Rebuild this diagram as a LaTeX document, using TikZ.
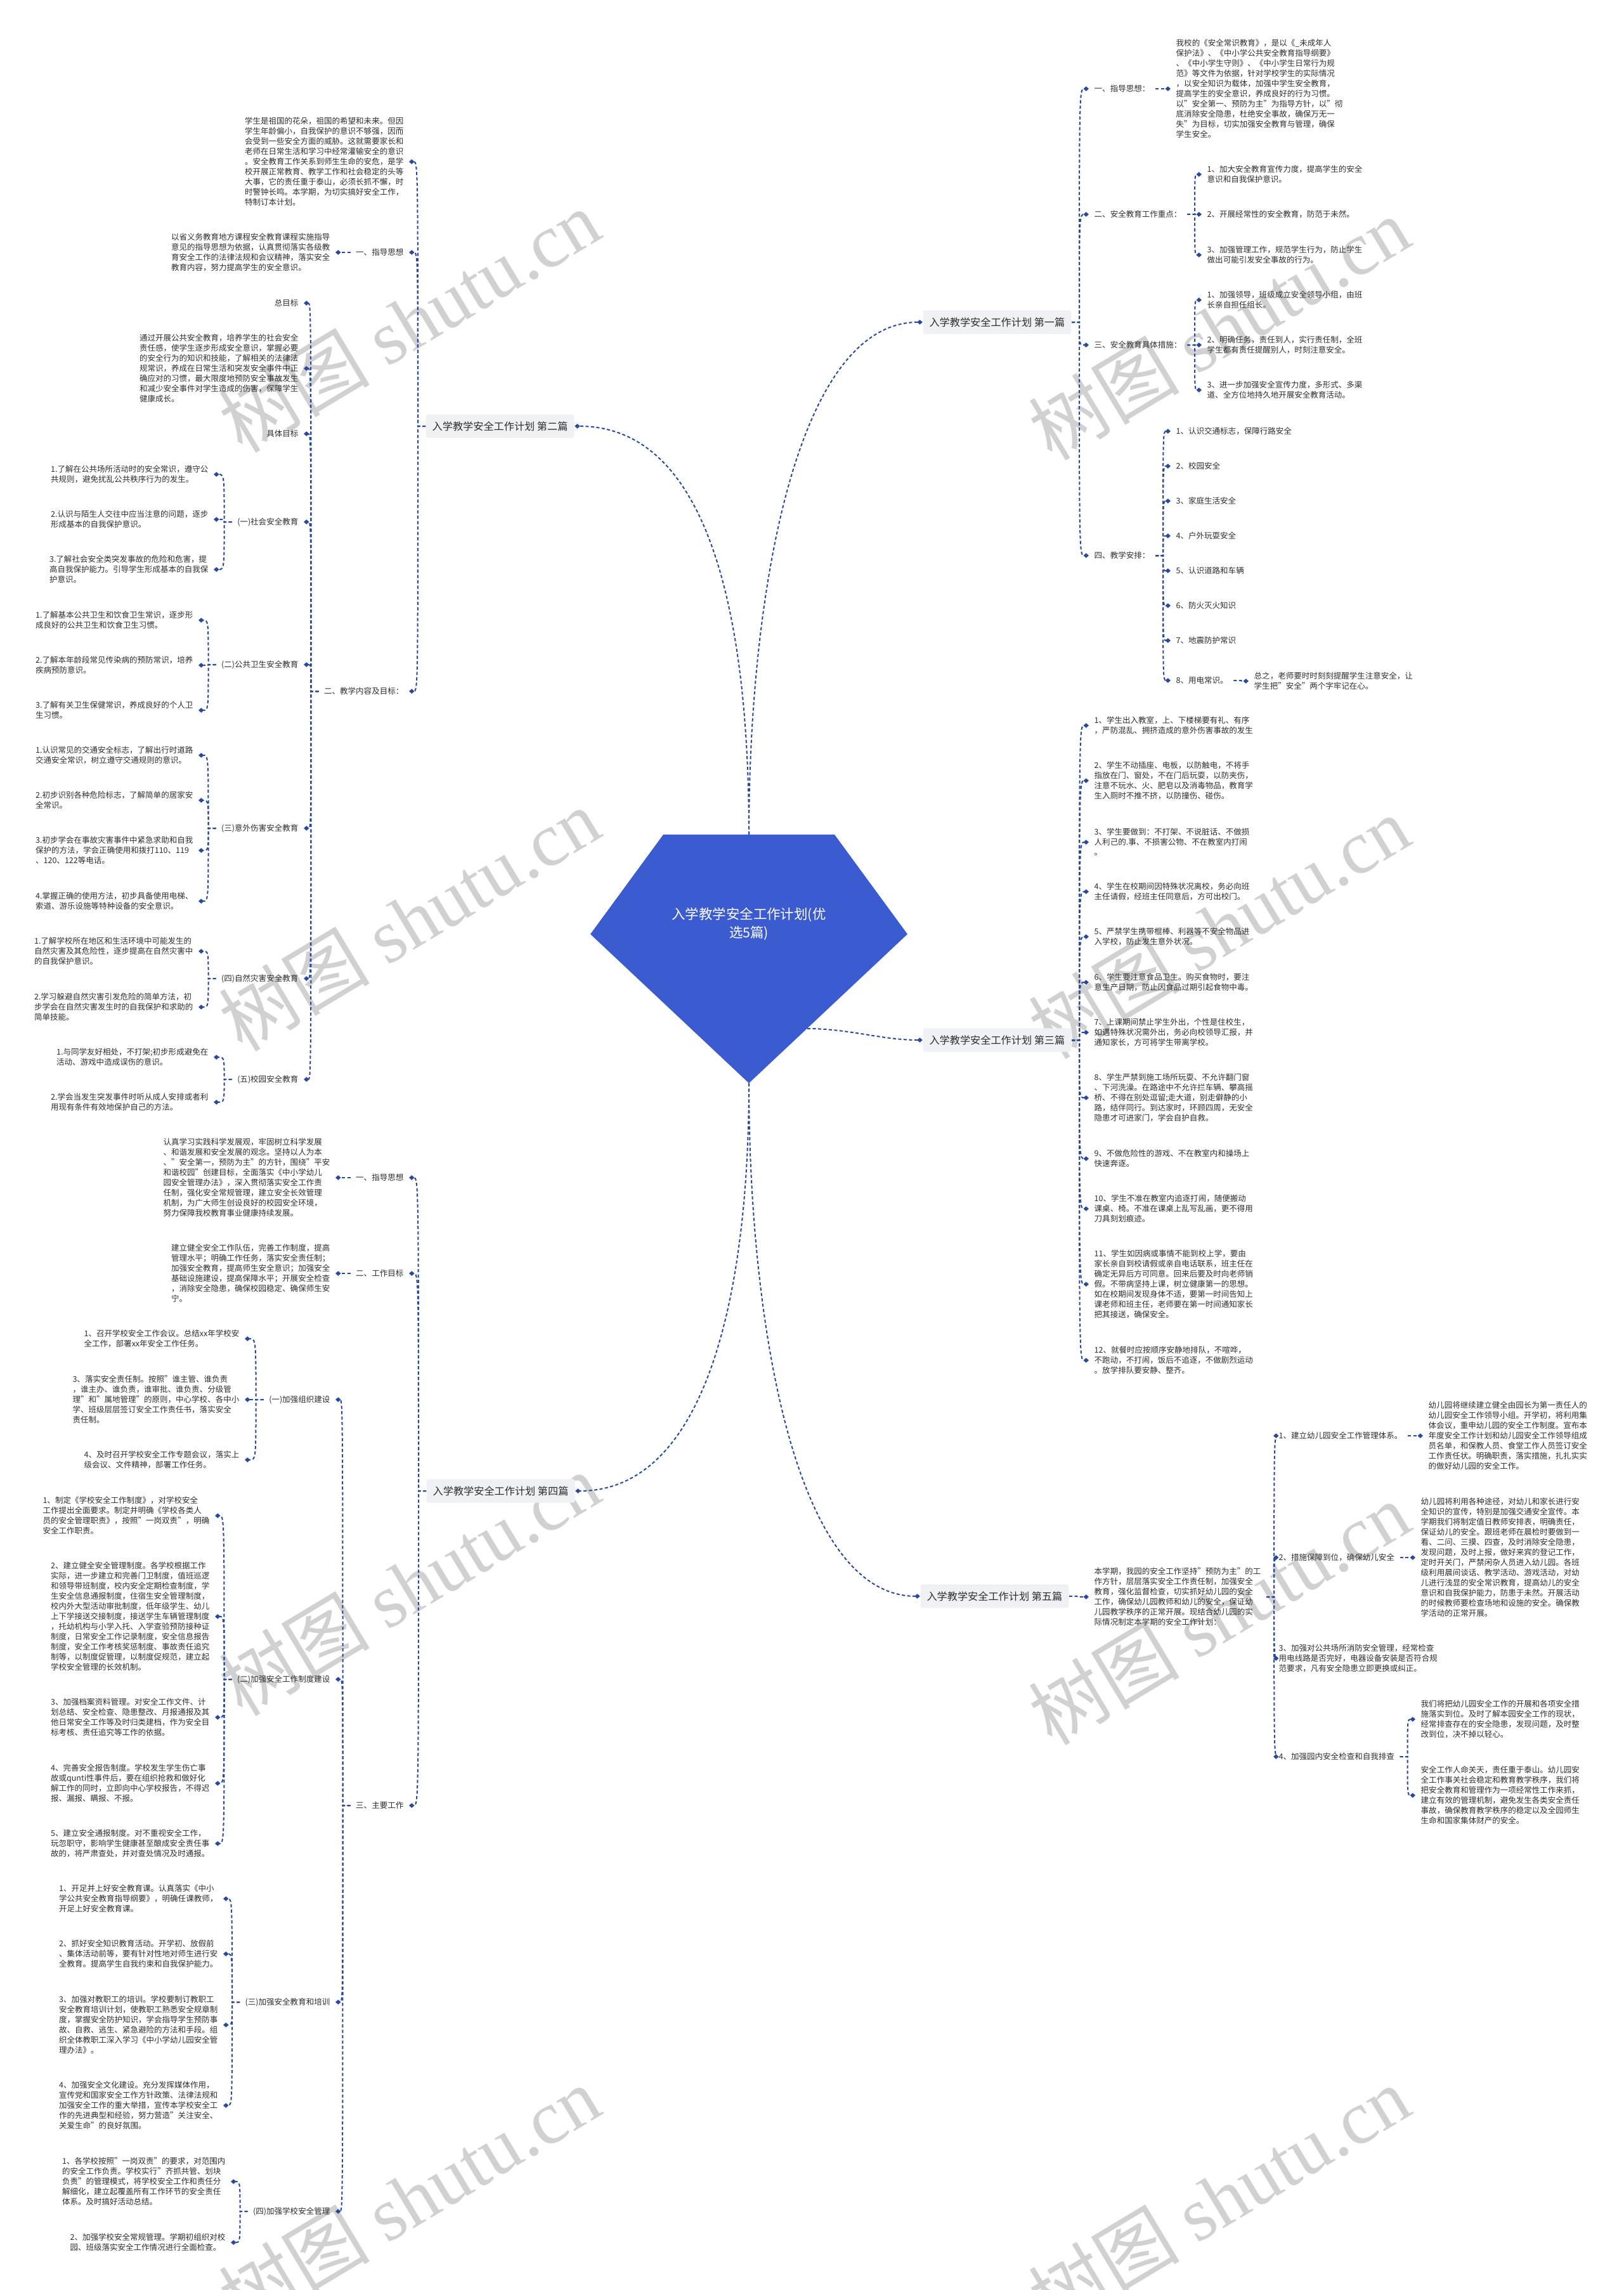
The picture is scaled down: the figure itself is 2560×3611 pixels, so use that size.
\documentclass[tikz,border=0pt]{standalone}
\usepackage{fontspec}
\setmainfont{Noto Sans CJK SC}
\newfontfamily\wmlatin{Liberation Serif}
\usetikzlibrary{arrows.meta}

\definecolor{linkblue}{RGB}{42,72,156}
\definecolor{rootblue}{RGB}{59,91,208}
\definecolor{boxgray}{RGB}{239,241,245}
\definecolor{txtgray}{RGB}{45,45,45}

\newcommand\rlinks[2]{%
  \coordinate (#1s) at ([xshift=1.2mm]#1.east);
  \foreach \c in {#2}
    \draw[link] (#1.east) -- (#1s) .. controls (#1s |- \c.west) .. (\c.west);
}
\newcommand\llinks[2]{%
  \coordinate (#1s) at ([xshift=-1.2mm]#1.west);
  \foreach \c in {#2}
    \draw[link] (#1.west) -- (#1s) .. controls (#1s |- \c.east) .. (\c.east);
}

\begin{document}
\begin{tikzpicture}[x=0.1mm, y=-0.1mm,
    txt/.style={inner xsep=0.8mm, inner ysep=0.3mm, align=left, text=txtgray,
      font=\fontsize{3.56}{4.55}\selectfont},
    branch/.style={fill=boxgray, rounded corners=0.3mm, inner xsep=1mm, inner ysep=1.1mm,
      text=txtgray, font=\fontsize{4.6}{5.5}\selectfont},
    link/.style={draw=linkblue, line width=0.2mm, dash pattern=on 0.5mm off 0.35mm,
      -{Diamond[length=0.85mm,width=0.75mm]}},
    wm/.style={text=black!18, rotate=31, font=\fontsize{34}{34}\selectfont}]

  \useasboundingbox (0,0) rectangle (2560,3611);

  \foreach \x/\y [count=\i] in {645/506, 1922/518, 645/1450, 1922/1462, 645/2498, 1922/2544, 645/3465, 1922/3465}
    \node[wm] (wm\i) at (\x,\y) {树图 {\wmlatin shutu.cn}};

  % centre
  \fill[rootblue] (1046,1316) -- (1316,1316) -- (1431,1473) -- (1181,1708) -- (931,1473) -- cycle;
  \node[text=white, align=center, font=\fontsize{6.1}{8}\selectfont] (root) at (1181,1457) {入学教学安全工作计划(优\\选5篇)};
  \coordinate (rootN) at (1181,1316);
  \coordinate (rootS) at (1181,1708);
  \coordinate (rootE) at (1273,1622);

  \node[branch, anchor=east] (p1) at (1690,508) {入学教学安全工作计划 第一篇};
  \node[branch, anchor=west] (p2) at (671,672) {入学教学安全工作计划 第二篇};
  \node[branch, anchor=east] (p3) at (1690,1640) {入学教学安全工作计划 第三篇};
  \node[branch, anchor=west] (p4) at (672,2351) {入学教学安全工作计划 第四篇};
  \node[branch, anchor=east] (p5) at (1686,2517) {入学教学安全工作计划 第五篇};

  \draw[link] (rootN) .. controls (1181,950) and (1252,508) .. (p1.west);
  \draw[link] (rootN) .. controls (1181,950) and (1110,672) .. (p2.east);
  \draw[link] (rootE) .. controls (1340,1622) and (1390,1640) .. (p3.west);
  \draw[link] (rootS) .. controls (1181,2050) and (1110,2351) .. (p4.east);
  \draw[link] (rootS) .. controls (1181,2080) and (1252,2517) .. (p5.west);

  % first
  \node[txt, anchor=west] (p1a) at (1717,140) {一、指导思想：};
  \node[txt, anchor=west] (p1a1) at (1846,140) {我校的《安全常识教育》，是以《\_未成年人\\保护法》、《中小学公共安全教育指导纲要》\\、《中小学生守则》、《中小学生日常行为规\\范》等文件为依据，针对学校学生的实际情况\\，以安全知识为载体，加强中学生安全教育，\\提高学生的安全意识，养成良好的行为习惯。\\以"安全第一、预防为主"为指导方针，以"彻\\底消除安全隐患，杜绝安全事故，确保万无一\\失"为目标，切实加强安全教育与管理，确保\\学生安全。};
  \node[txt, anchor=west] (p1b) at (1717,338) {二、安全教育工作重点：};
  \node[txt, anchor=west] (p1b1) at (1895,275) {1、加大安全教育宣传力度，提高学生的安全\\意识和自我保护意识。};
  \node[txt, anchor=west] (p1b2) at (1895,338) {2、开展经常性的安全教育，防范于未然。};
  \node[txt, anchor=west] (p1b3) at (1895,402) {3、加强管理工作，规范学生行为，防止学生\\做出可能引发安全事故的行为。};
  \node[txt, anchor=west] (p1c) at (1717,544) {三、安全教育具体措施：};
  \node[txt, anchor=west] (p1c1) at (1895,473) {1、加强领导，班级成立安全领导小组，由班\\长亲自担任组长。};
  \node[txt, anchor=west] (p1c2) at (1895,544) {2、明确任务，责任到人，实行责任制，全班\\学生都有责任提醒别人，时刻注意安全。};
  \node[txt, anchor=west] (p1c3) at (1895,615) {3、进一步加强安全宣传力度，多形式、多渠\\道、全方位地持久地开展安全教育活动。};
  \node[txt, anchor=west] (p1d) at (1717,876) {四、教学安排：};
  \node[txt, anchor=west] (p1d1) at (1846,680) {1、认识交通标志，保障行路安全};
  \node[txt, anchor=west] (p1d2) at (1846,735) {2、校园安全};
  \node[txt, anchor=west] (p1d3) at (1846,790) {3、家庭生活安全};
  \node[txt, anchor=west] (p1d4) at (1846,845) {4、户外玩耍安全};
  \node[txt, anchor=west] (p1d5) at (1846,900) {5、认识道路和车辆};
  \node[txt, anchor=west] (p1d6) at (1846,955) {6、防火灭火知识};
  \node[txt, anchor=west] (p1d7) at (1846,1010) {7、地震防护常识};
  \node[txt, anchor=west] (p1d8) at (1846,1073) {8、用电常识。};
  \node[txt, anchor=west] (p1d8a) at (1969,1074) {总之，老师要时时刻刻提醒学生注意安全，让\\学生把"安全"两个字牢记在心。};

  \rlinks{p1}{p1a,p1b,p1c,p1d}
  \rlinks{p1a}{p1a1}
  \rlinks{p1b}{p1b1,p1b2,p1b3}
  \rlinks{p1c}{p1c1,p1c2,p1c3}
  \rlinks{p1d}{p1d1,p1d2,p1d3,p1d4,p1d5,p1d6,p1d7,p1d8}
  \rlinks{p1d8}{p1d8a}

  % second
  \node[txt, anchor=east] (p2i) at (645,255) {学生是祖国的花朵，祖国的希望和未来。但因\\学生年龄偏小，自我保护的意识不够强，因而\\会受到一些安全方面的威胁。这就需要家长和\\老师在日常生活和学习中经常灌输安全的意识\\。安全教育工作关系到师生生命的安危，是学\\校开展正常教育、教学工作和社会稳定的头等\\大事，它的责任重于泰山，必须长抓不懈，时\\时警钟长鸣。本学期，为切实搞好安全工作，\\特制订本计划。};
  \node[txt, anchor=east] (p2a) at (645,398) {一、指导思想};
  \node[txt, anchor=east] (p2a1) at (529,398) {以省义务教育地方课程安全教育课程实施指导\\意见的指导思想为依据，认真贯彻落实各级教\\育安全工作的法律法规和会议精神，落实安全\\教育内容，努力提高学生的安全意识。};
  \node[txt, anchor=east] (p2b) at (645,1090) {二、教学内容及目标：};
  \node[txt, anchor=east] (g0) at (479,478) {总目标};
  \node[txt, anchor=east] (g1) at (479,581) {通过开展公共安全教育，培养学生的社会安全\\责任感，使学生逐步形成安全意识，掌握必要\\的安全行为的知识和技能，了解相关的法律法\\规常识，养成在日常生活和突发安全事件中正\\确应对的习惯，最大限度地预防安全事故发生\\和减少安全事件对学生造成的伤害，保障学生\\健康成长。};
  \node[txt, anchor=east] (g2) at (479,684) {具体目标};
  \node[txt, anchor=east] (e1) at (479,823) {(一)社会安全教育};
  \node[txt, anchor=east] (e1a) at (337,748) {1.了解在公共场所活动时的安全常识，遵守公\\共规则，避免扰乱公共秩序行为的发生。};
  \node[txt, anchor=east] (e1b) at (337,819) {2.认识与陌生人交往中应当注意的问题，逐步\\形成基本的自我保护意识。};
  \node[txt, anchor=east] (e1c) at (337,898) {3.了解社会安全类突发事故的危险和危害，提\\高自我保护能力。引导学生形成基本的自我保\\护意识。};
  \node[txt, anchor=east] (e2) at (479,1048) {(二)公共卫生安全教育};
  \node[txt, anchor=east] (e2a) at (313,978) {1.了解基本公共卫生和饮食卫生常识，逐步形\\成良好的公共卫生和饮食卫生习惯。};
  \node[txt, anchor=east] (e2b) at (313,1049) {2.了解本年龄段常见传染病的预防常识，培养\\疾病预防意识。};
  \node[txt, anchor=east] (e2c) at (313,1120) {3.了解有关卫生保健常识，养成良好的个人卫\\生习惯。};
  \node[txt, anchor=east] (e3) at (479,1306) {(三)意外伤害安全教育};
  \node[txt, anchor=east] (e3a) at (313,1191) {1.认识常见的交通安全标志，了解出行时道路\\交通安全常识，树立遵守交通规则的意识。};
  \node[txt, anchor=east] (e3b) at (313,1262) {2.初步识别各种危险标志，了解简单的居家安\\全常识。};
  \node[txt, anchor=east] (e3c) at (313,1341) {3.初步学会在事故灾害事件中紧急求助和自我\\保护的方法，学会正确使用和拨打110、119\\、120、122等电话。};
  \node[txt, anchor=east] (e3d) at (313,1421) {4.掌握正确的使用方法，初步具备使用电梯、\\索道、游乐设施等特种设备的安全意识。};
  \node[txt, anchor=east] (e4) at (479,1543) {(四)自然灾害安全教育};
  \node[txt, anchor=east] (e4a) at (313,1500) {1.了解学校所在地区和生活环境中可能发生的\\自然灾害及其危险性，逐步提高在自然灾害中\\的自我保护意识。};
  \node[txt, anchor=east] (e4b) at (313,1588) {2.学习躲避自然灾害引发危险的简单方法，初\\步学会在自然灾害发生时的自我保护和求助的\\简单技能。};
  \node[txt, anchor=east] (e5) at (479,1702) {(五)校园安全教育};
  \node[txt, anchor=east] (e5a) at (337,1667) {1.与同学友好相处，不打架;初步形成避免在\\活动、游戏中造成误伤的意识。};
  \node[txt, anchor=east] (e5b) at (337,1738) {2.学会当发生突发事件时听从成人安排或者利\\用现有条件有效地保护自己的方法。};

  \llinks{p2}{p2i,p2a,p2b}
  \llinks{p2a}{p2a1}
  \llinks{p2b}{g0,g1,g2,e1,e2,e3,e4,e5}
  \llinks{e1}{e1a,e1b,e1c}
  \llinks{e2}{e2a,e2b,e2c}
  \llinks{e3}{e3a,e3b,e3c,e3d}
  \llinks{e4}{e4a,e4b}
  \llinks{e5}{e5a,e5b}

  % third
  \node[txt, anchor=west] (r1) at (1717,1144) {1、学生出入教室，上、下楼梯要有礼、有序\\，严防混乱、拥挤造成的意外伤害事故的发生};
  \node[txt, anchor=west] (r2) at (1717,1231) {2、学生不动插座、电板，以防触电，不将手\\指放在门、窗处，不在门后玩耍，以防夹伤，\\注意不玩水、火、肥皂以及消毒物品，教育学\\生入厕时不推不挤，以防撞伤、碰伤。};
  \node[txt, anchor=west] (r3) at (1717,1328) {3、学生要做到：不打架、不说脏话、不做损\\人利己的.事、不损害公物、不在教室内打闹\\。};
  \node[txt, anchor=west] (r4) at (1717,1406) {4、学生在校期间因特殊状况离校，务必向班\\主任请假，经班主任同意后，方可出校门。};
  \node[txt, anchor=west] (r5) at (1717,1477) {5、严禁学生携带棍棒、利器等不安全物品进\\入学校，防止发生意外状况。};
  \node[txt, anchor=west] (r6) at (1717,1549) {6、学生要注意食品卫生。购买食物时，要注\\意生产日期，防止因食品过期引起食物中毒。};
  \node[txt, anchor=west] (r7) at (1717,1628) {7、上课期间禁止学生外出，个性是住校生，\\如遇特殊状况需外出，务必向校领导汇报，并\\通知家长，方可将学生带离学校。};
  \node[txt, anchor=west] (r8) at (1717,1731) {8、学生严禁到施工场所玩耍、不允许翻门窗\\、下河洗澡。在路途中不允许拦车辆、攀高摇\\桥、不得在别处逗留;走大道，别走僻静的小\\路，结伴同行。到达家时，环顾四周，无安全\\隐患才可进家门，学会自护自救。};
  \node[txt, anchor=west] (r9) at (1717,1827) {9、不做危险性的游戏、不在教室内和操场上\\快速奔逐。};
  \node[txt, anchor=west] (r10) at (1717,1906) {10、学生不准在教室内追逐打闹，随便搬动\\课桌、椅。不准在课桌上乱写乱画，更不得用\\刀具刻划痕迹。};
  \node[txt, anchor=west] (r11) at (1717,2025) {11、学生如因病或事情不能到校上学，要由\\家长亲自到校请假或亲自电话联系，班主任在\\确定无异后方可同意。回来后要及时向老师销\\假。不带病坚持上课，树立健康第一的思想。\\如在校期间发现身体不适，要第一时间告知上\\课老师和班主任，老师要在第一时间通知家长\\把其接送，确保安全。};
  \node[txt, anchor=west] (r12) at (1717,2145) {12、就餐时应按顺序安静地排队，不喧哗，\\不跑动，不打闹，饭后不追逐，不做剧烈运动\\。放学排队要安静、整齐。};

  \rlinks{p3}{r1,r2,r3,r4,r5,r6,r7,r8,r9,r10,r11,r12}

  % fourth
  \node[txt, anchor=east] (p4a) at (645,1857) {一、指导思想};
  \node[txt, anchor=east] (p4a1) at (529,1857) {认真学习实践科学发展观，牢固树立科学发展\\、和谐发展和安全发展的观念。坚持以人为本\\、"安全第一，预防为主"的方针，围绕"平安\\和谐校园"创建目标，全面落实《中小学幼儿\\园安全管理办法》，深入贯彻落实安全工作责\\任制，强化安全常规管理，建立安全长效管理\\机制，为广大师生创设良好的校园安全环境，\\努力保障我校教育事业健康持续发展。};
  \node[txt, anchor=east] (p4b) at (645,2008) {二、工作目标};
  \node[txt, anchor=east] (p4b1) at (529,2008) {建立健全安全工作队伍，完善工作制度，提高\\管理水平；明确工作任务，落实安全责任制；\\加强安全教育，提高师生安全意识；加强安全\\基础设施建设，提高保障水平；开展安全检查\\，消除安全隐患，确保校园稳定、确保师生安\\宁。};
  \node[txt, anchor=east] (p4c) at (645,2847) {三、主要工作};
  \node[txt, anchor=east] (w1) at (529,2207) {(一)加强组织建设};
  \node[txt, anchor=east] (w1a) at (386,2111) {1、召开学校安全工作会议。总结xx年学校安\\全工作，部署xx年安全工作任务。};
  \node[txt, anchor=east] (w1b) at (386,2207) {3、落实安全责任制。按照"谁主管、谁负责\\，谁主办、谁负责，谁审批、谁负责、分级管\\理"和"属地管理"的原则，中心学校、各中小\\学、班级层层签订安全工作责任书，落实安全\\责任制。};
  \node[txt, anchor=east] (w1c) at (386,2302) {4、及时召开学校安全工作专题会议，落实上\\级会议、文件精神，部署工作任务。};
  \node[txt, anchor=east] (w2) at (529,2648) {(二)加强安全工作制度建设};
  \node[txt, anchor=east] (w2a) at (339,2390) {1、制定《学校安全工作制度》，对学校安全\\工作提出全面要求。制定并明确《学校各类人\\员的安全管理职责》，按照"一岗双责"，明确\\安全工作职责。};
  \node[txt, anchor=east] (w2b) at (339,2549) {2、建立健全安全管理制度。各学校根据工作\\实际，进一步建立和完善门卫制度，值班巡逻\\和领导带班制度，校内安全定期检查制度，学\\生安全信息通报制度，住宿生安全管理制度，\\校内外大型活动审批制度，低年级学生、幼儿\\上下学接送交接制度，接送学生车辆管理制度\\，托幼机构与小学入托、入学查验预防接种证\\制度，日常安全工作记录制度，安全信息报告\\制度，安全工作考核奖惩制度、事故责任追究\\制等，以制度促管理，以制度促规范，建立起\\学校安全管理的长效机制。};
  \node[txt, anchor=east] (w2c) at (339,2708) {3、加强档案资料管理。对安全工作文件、计\\划总结、安全检查、隐患整改、月报通报及其\\他日常安全工作等及时归类建档，作为安全目\\标考核、责任追究等工作的依据。};
  \node[txt, anchor=east] (w2d) at (339,2812) {4、完善安全报告制度。学校发生学生伤亡事\\故或qunti性事件后，要在组织抢救和做好化\\解工作的同时，立即向中心学校报告，不得迟\\报、漏报、瞒报、不报。};
  \node[txt, anchor=east] (w2e) at (339,2907) {5、建立安全通报制度。对不重视安全工作，\\玩忽职守，影响学生健康甚至酿成安全责任事\\故的，将严肃查处，并对查处情况及时通报。};
  \node[txt, anchor=east] (w3) at (529,3157) {(三)加强安全教育和培训};
  \node[txt, anchor=east] (w3a) at (352,2994) {1、开足并上好安全教育课。认真落实《中小\\学公共安全教育指导纲要》，明确任课教师，\\开足上好安全教育课。};
  \node[txt, anchor=east] (w3b) at (352,3081) {2、抓好安全知识教育活动。开学初、放假前\\、集体活动前等，要有针对性地对师生进行安\\全教育。提高学生自我约束和自我保护能力。};
  \node[txt, anchor=east] (w3c) at (352,3193) {3、加强对教职工的培训。学校要制订教职工\\安全教育培训计划，使教职工熟悉安全规章制\\度，掌握安全防护知识，学会指导学生预防事\\故、自救、逃生、紧急避险的方法和手段。组\\织全体教职工深入学习《中小学幼儿园安全管\\理办法》。};
  \node[txt, anchor=east] (w3d) at (352,3320) {4、加强安全文化建设。充分发挥媒体作用，\\宣传党和国家安全工作方针政策、法律法规和\\加强安全工作的重大举措，宣传本学校安全工\\作的先进典型和经验，努力营造"关注安全、\\关爱生命"的良好氛围。};
  \node[txt, anchor=east] (w4) at (529,3487) {(四)加强学校安全管理};
  \node[txt, anchor=east] (w4a) at (364,3440) {1、各学校按照"一岗双责"的要求，对范围内\\的安全工作负责。学校实行"齐抓共管、划块\\负责"的管理模式，将学校安全工作和责任分\\解细化，建立起覆盖所有工作环节的安全责任\\体系。及时搞好活动总结。};
  \node[txt, anchor=east] (w4b) at (364,3536) {2、加强学校安全常规管理。学期初组织对校\\园、班级落实安全工作情况进行全面检查。};

  \llinks{p4}{p4a,p4b,p4c}
  \llinks{p4a}{p4a1}
  \llinks{p4b}{p4b1}
  \llinks{p4c}{w1,w2,w3,w4}
  \llinks{w1}{w1a,w1b,w1c}
  \llinks{w2}{w2a,w2b,w2c,w2d,w2e}
  \llinks{w3}{w3a,w3b,w3c,w3d}
  \llinks{w4}{w4a,w4b}

  % fifth
  \node[txt, anchor=west] (p5i) at (1717,2518) {本学期，我园的安全工作坚持"预防为主"的工\\作方针，层层落实安全工作责任制，加强安全\\教育，强化监督检查，切实抓好幼儿园的安全\\工作，确保幼儿园教师和幼儿的安全，保证幼\\儿园教学秩序的正常开展。现结合幼儿园的实\\际情况制定本学期的安全工作计划：};
  \node[txt, anchor=west] (k1) at (2008,2264) {1、建立幼儿园安全工作管理体系。};
  \node[txt, anchor=west] (k1a) at (2244,2264) {幼儿园将继续建立健全由园长为第一责任人的\\幼儿园安全工作领导小组。开学初，将利用集\\体会议，重申幼儿园的安全工作制度。宣布本\\年度安全工作计划和幼儿园安全工作领导组成\\员名单，和保教人员、食堂工作人员签订安全\\工作责任状。明确职责，落实措施，扎扎实实\\的做好幼儿园的安全工作。};
  \node[txt, anchor=west] (k2) at (2008,2456) {2、措施保障到位，确保幼儿安全};
  \node[txt, anchor=west] (k2a) at (2232,2456) {幼儿园将利用各种途径，对幼儿和家长进行安\\全知识的宣传，特别是加强交通安全宣传。本\\学期我们将制定值日教师安排表，明确责任，\\保证幼儿的安全。跟班老师在晨检时要做到一\\看、二问、三摸、四查，及时消除安全隐患，\\发现问题，及时上报，做好来宾的登记工作，\\定时开关门，严禁闲杂人员进入幼儿园。各班\\级利用晨间谈话、教学活动、游戏活动，对幼\\儿进行浅显的安全常识教育，提高幼儿的安全\\意识和自我保护能力，防患于未然。开展活动\\的时候教师要检查场地和设施的安全。确保教\\学活动的正常开展。};
  \node[txt, anchor=west] (k3) at (2008,2615) {3、加强对公共场所消防安全管理，经常检查\\用电线路是否完好，电器设备安装是否符合规\\范要求，凡有安全隐患立即更换或纠正。};
  \node[txt, anchor=west] (k4) at (2008,2770) {4、加强园内安全检查和自我排查};
  \node[txt, anchor=west] (k4a) at (2232,2711) {我们将把幼儿园安全工作的开展和各项安全措\\施落实到位。及时了解本园安全工作的现状，\\经常排查存在的安全隐患，发现问题，及时整\\改到位，决不掉以轻心。};
  \node[txt, anchor=west] (k4b) at (2232,2831) {安全工作人命关天，责任重于泰山。幼儿园安\\全工作事关社会稳定和教育教学秩序，我们将\\把安全教育和管理作为一项经常性工作来抓，\\建立有效的管理机制，避免发生各类安全责任\\事故，确保教育教学秩序的稳定以及全园师生\\生命和国家集体财产的安全。};

  \rlinks{p5}{p5i}
  \rlinks{p5i}{k1,k2,k3,k4}
  \rlinks{k1}{k1a}
  \rlinks{k2}{k2a}
  \rlinks{k4}{k4a,k4b}

\end{tikzpicture}
\end{document}
